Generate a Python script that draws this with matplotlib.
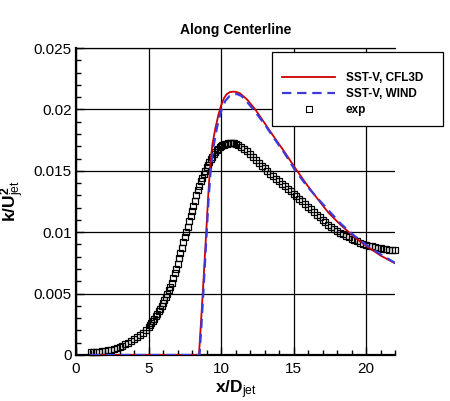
import matplotlib
matplotlib.use("Agg")
import matplotlib.pyplot as plt
from matplotlib.patches import Rectangle
from matplotlib.ticker import MultipleLocator, FixedLocator

plt.rcParams['font.family'] = ['Liberation Sans', 'DejaVu Sans']
plt.rcParams['mathtext.fontset'] = 'custom'
plt.rcParams['mathtext.rm'] = 'Liberation Sans'
plt.rcParams['mathtext.bf'] = 'Liberation Sans:bold'
plt.rcParams['mathtext.it'] = 'Liberation Sans:italic'

title = "Along Centerline"
series_names = ["SST-V, CFL3D", "SST-V, WIND", "exp"]
x_ticks = [0, 5, 10, 15, 20]
y_ticks = [0, 0.005, 0.01, 0.015, 0.02, 0.025]
y_tick_labels = ["0", "0.005", "0.01", "0.015", "0.02", "0.025"]

# SST-V, CFL3D
cfl3d_x = [1.0, 8.48, 8.6, 8.74, 8.87, 9.0, 9.12, 9.24, 9.4, 9.6, 9.82, 10.0,
           10.2, 10.4, 10.6, 10.86, 11.1, 11.32, 11.8, 12.36, 13.0, 13.63,
           14.4, 15.13, 15.9, 16.63, 17.4, 18.25, 19.2, 20.1, 21.0, 22.0]
cfl3d_y = [0.0, 0.0, 0.0023, 0.0050, 0.0077, 0.0104, 0.0130, 0.0152, 0.0171,
           0.0184, 0.01955, 0.0203, 0.0209, 0.02125, 0.0214, 0.02145, 0.0214,
           0.0213, 0.0208, 0.0200, 0.0189, 0.0178, 0.0165, 0.0152, 0.0139,
           0.01276, 0.0116, 0.01059, 0.0096, 0.00882, 0.0081, 0.00747]

# SST-V, WIND
wind_x = [1.0, 8.52, 8.65, 8.78, 8.9, 9.03, 9.15, 9.28, 9.45, 9.65, 9.85,
          10.05, 10.3, 10.6, 10.9, 11.1, 11.4, 11.8, 12.36, 13.0, 13.63, 14.4,
          15.13, 15.9, 16.63, 17.4, 18.25, 19.2, 20.1, 21.0, 22.0]
wind_y = [0.0, 0.0, 0.0024, 0.0050, 0.0076, 0.0103, 0.0128, 0.0149, 0.0167,
          0.0181, 0.0192, 0.0200, 0.0207, 0.0211, 0.02123, 0.02125, 0.0211,
          0.0206, 0.0198, 0.0188, 0.0177, 0.0164, 0.0150, 0.0138, 0.0128,
          0.0118, 0.0107, 0.0097, 0.0089, 0.0082, 0.0075]

# exp
exp_x = [1.0, 1.2, 1.4, 1.6, 1.8, 2.0, 2.2, 2.4, 2.6, 2.8, 3.0, 3.2, 3.4, 3.6,
         3.8, 4.0, 4.2, 4.4, 4.6, 4.8, 5.0,
         5.1, 5.2, 5.3, 5.4, 5.5, 5.6, 5.7, 5.8, 5.9, 6.0, 6.1, 6.2, 6.3, 6.4,
         6.5, 6.6, 6.7, 6.8, 6.9, 7.0, 7.1, 7.2, 7.3, 7.4, 7.5, 7.6, 7.7, 7.8,
         7.9, 8.0, 8.1, 8.2, 8.3, 8.4, 8.5, 8.6, 8.7, 8.8, 8.9, 9.0, 9.1, 9.2,
         9.3, 9.4, 9.5, 9.6, 9.7, 9.8, 9.9, 10.0, 10.1, 10.2, 10.3, 10.4, 10.5,
         10.6, 10.7, 10.8, 10.9, 11.0,
         11.2, 11.4, 11.6, 11.8, 12.0, 12.2, 12.4, 12.6, 12.8, 13.0, 13.2,
         13.4, 13.6, 13.8, 14.0, 14.2, 14.4, 14.6, 14.8, 15.0, 15.2, 15.4,
         15.6, 15.8, 16.0, 16.2, 16.4, 16.6, 16.8, 17.0, 17.2, 17.4, 17.6,
         17.8, 18.0, 18.2, 18.4, 18.6, 18.8, 19.0, 19.2, 19.4, 19.6, 19.8,
         20.0, 20.2, 20.4, 20.6, 20.8, 21.0, 21.2, 21.4, 21.6, 21.8, 22.0]
exp_y = [0.00022, 0.00024, 0.00026, 0.00028, 0.00031, 0.00034, 0.00038,
         0.00043, 0.00049, 0.00056, 0.00064, 0.00074, 0.00086, 0.00099,
         0.00113, 0.00128, 0.00144, 0.00162, 0.00183, 0.00206, 0.00228,
         0.00243, 0.00259, 0.00277, 0.00296, 0.00316, 0.00336, 0.00357,
         0.00378, 0.00400, 0.00423, 0.00447, 0.00472, 0.00498, 0.00526,
         0.00556, 0.00590, 0.00626, 0.00664, 0.00704, 0.00745, 0.00787,
         0.00830, 0.00874, 0.00918, 0.00962, 0.01004, 0.01046, 0.01088,
         0.01130, 0.01172, 0.01213, 0.01254, 0.01300, 0.01340, 0.01378,
         0.01413, 0.01445, 0.01475, 0.01502, 0.01527, 0.01550, 0.01571,
         0.01595, 0.01615, 0.01634, 0.01651, 0.01666, 0.01679, 0.01690,
         0.01699, 0.01707, 0.01713, 0.01718, 0.01721, 0.01723, 0.01725,
         0.01725, 0.01725, 0.01723, 0.01718,
         0.01708, 0.01696, 0.01680, 0.01660, 0.01638, 0.01614, 0.01590,
         0.01566, 0.01543, 0.01520, 0.01497, 0.01475, 0.01454, 0.01433,
         0.01413, 0.01393, 0.01373, 0.01354, 0.01335, 0.01315, 0.01295,
         0.01274, 0.01253, 0.01231, 0.01209, 0.01187, 0.01165, 0.01143,
         0.01122, 0.01101, 0.01081, 0.01062, 0.01044, 0.01027, 0.01011,
         0.00996, 0.00982, 0.00969, 0.00957, 0.00946, 0.00935, 0.00925,
         0.00915, 0.00906, 0.00898, 0.00891, 0.00884, 0.00878, 0.00873,
         0.00868, 0.00864, 0.00861, 0.00858, 0.00856, 0.00854]

fig = plt.figure(figsize=(4.5, 4.01), dpi=100)
ax = fig.add_axes([76 / 450, 1 - 355 / 401, (395 - 76) / 450, (355 - 48) / 401])

ax.plot(exp_x, exp_y, linestyle='none', marker='s', markersize=4.4,
        markerfacecolor='none', markeredgecolor='black', markeredgewidth=0.9,
        zorder=3, clip_on=False, label=series_names[2])
l1, = ax.plot(cfl3d_x, cfl3d_y, color='#cc0000', lw=1.3, zorder=4,
              label=series_names[0])
l2, = ax.plot(wind_x, wind_y, color='#3b3bdc', lw=1.6, linestyle=(0, (4.2, 2.6)),
              zorder=5, label=series_names[1])

ax.set_xlim(0, 22)
ax.set_ylim(0, 0.025)
ax.xaxis.set_major_locator(FixedLocator(x_ticks))
ax.xaxis.set_minor_locator(MultipleLocator(1))
ax.yaxis.set_major_locator(FixedLocator(y_ticks))
ax.set_yticklabels(y_tick_labels)
ax.yaxis.set_minor_locator(MultipleLocator(0.001))
ax.tick_params(which='both', direction='in', top=False, right=False,
               labelsize=11, width=1.0, color='black')
ax.tick_params(which='major', length=5.5)
ax.tick_params(which='minor', length=3.5)
ax.tick_params(axis='x', pad=5)
ax.tick_params(axis='y', pad=3)

ax.grid(True, which='major', color='black', lw=0.9)
for s in ['left', 'bottom']:
    ax.spines[s].set_linewidth(1.6)
ax.spines['right'].set_visible(False)
ax.spines['top'].set_linewidth(0.9)

ax.set_title(title, fontsize=10, fontweight='bold', pad=10)
ax.set_xlabel(r'$\mathbf{x/D}_{\mathrm{jet}}$', fontsize=12.5, labelpad=2)
ax.set_ylabel(r'$\mathbf{k/U}_{\mathrm{jet}}^{\mathbf{2}}$', fontsize=12.5,
              labelpad=5)

# legend box
rect = Rectangle((272 / 450, 1 - 126 / 401), 171 / 450, 74 / 401,
                 transform=fig.transFigure, facecolor='white',
                 edgecolor='black', lw=0.9, zorder=6)
fig.patches.append(rect)
h0, = ax.plot([], [], linestyle='none', marker='s', markersize=4.2,
              markerfacecolor='none', markeredgecolor='black',
              markeredgewidth=0.8)
leg = fig.legend([l1, l2, h0], series_names, loc='upper left',
                 bbox_to_anchor=(282 / 450, 1 - 72 / 401), frameon=False,
                 prop={'weight': 'bold', 'size': 8.5}, handlelength=4.5,
                 handletextpad=0.9, labelspacing=0.35, borderpad=0,
                 borderaxespad=0, numpoints=1)
leg.set_zorder(7)

fig.savefig('out.png', dpi=100)
